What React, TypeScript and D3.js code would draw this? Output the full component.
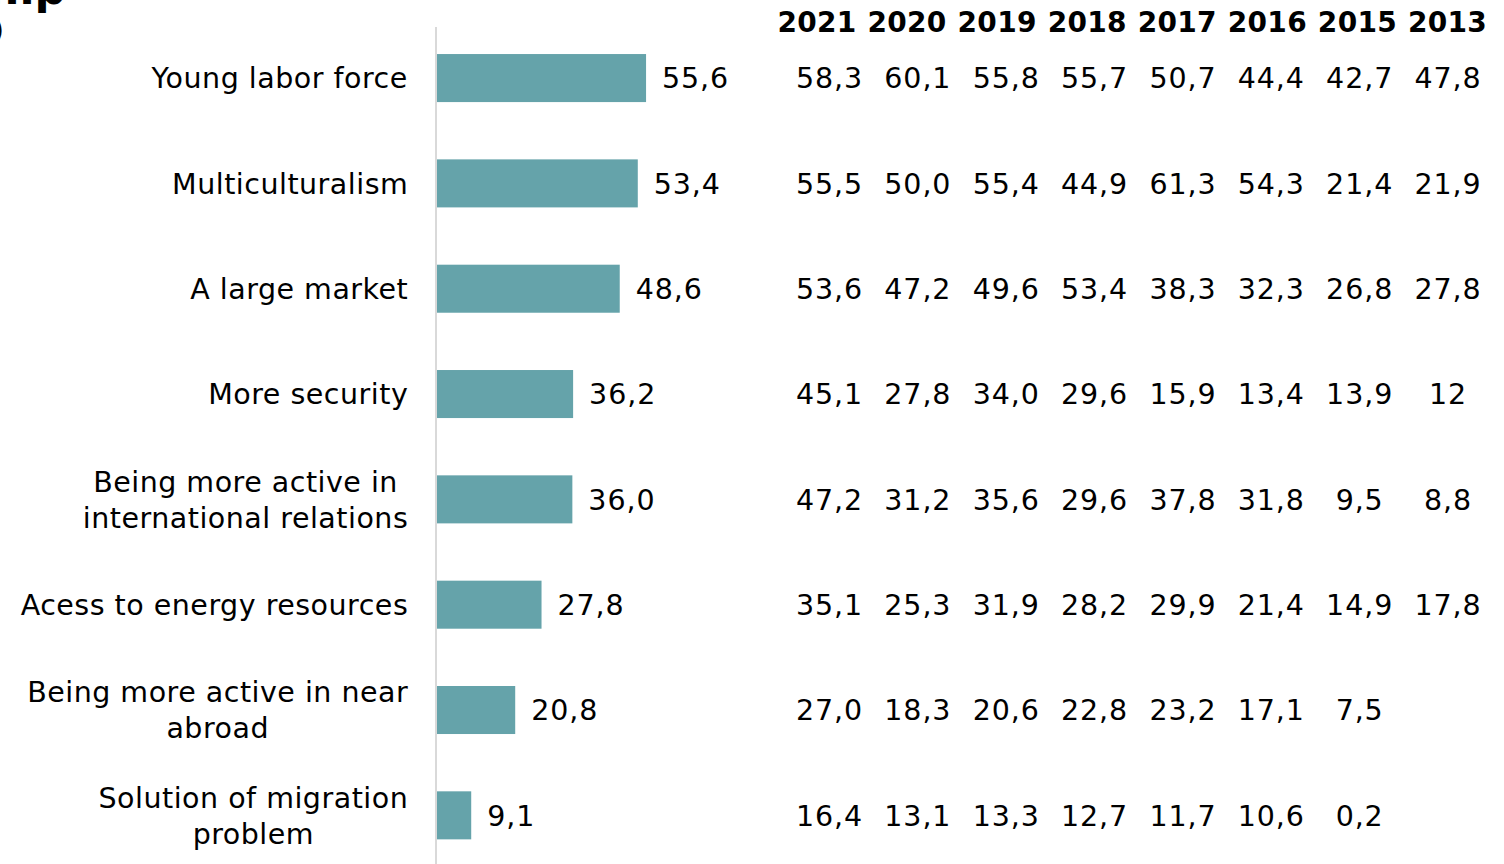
import React, { useEffect, useRef } from "react";
import * as d3 from "d3";

const categories = [
  "Young labor force",
  "Multiculturalism",
  "A large market",
  "More security",
  "Being more active in\ninternational relations",
  "Acess to energy resources",
  "Being more active in near\nabroad",
  "Solution of migration\nproblem",
];
const values2022 = [55.6, 53.4, 48.6, 36.2, 36.0, 27.8, 20.8, 9.1];

const years = ["2021", "2020", "2019", "2018", "2017", "2016", "2015", "2013"];
const y2021 = ["58,3", "55,5", "53,6", "45,1", "47,2", "35,1", "27,0", "16,4"];
const y2020 = ["60,1", "50,0", "47,2", "27,8", "31,2", "25,3", "18,3", "13,1"];
const y2019 = ["55,8", "55,4", "49,6", "34,0", "35,6", "31,9", "20,6", "13,3"];
const y2018 = ["55,7", "44,9", "53,4", "29,6", "29,6", "28,2", "22,8", "12,7"];
const y2017 = ["50,7", "61,3", "38,3", "15,9", "37,8", "29,9", "23,2", "11,7"];
const y2016 = ["44,4", "54,3", "32,3", "13,4", "31,8", "21,4", "17,1", "10,6"];
const y2015 = ["42,7", "21,4", "26,8", "13,9", "9,5", "14,9", "7,5", "0,2"];
const y2013 = ["47,8", "21,9", "27,8", "12", "8,8", "17,8", "", ""];
const tableColumns = [y2021, y2020, y2019, y2018, y2017, y2016, y2015, y2013];

const W = 1504;
const H = 864;
const FONT = "'DejaVu Sans', Verdana, sans-serif";
const BAR = "#65a3aa";
const LS = 0.5;

export default function App() {
  const ref = useRef<SVGSVGElement>(null);

  useEffect(() => {
    const svg = d3.select(ref.current);
    svg.selectAll("*").remove();

    const x = d3.scaleLinear().domain([0, 60]).range([437, 662.6]);
    const y = d3
      .scaleBand<string>()
      .domain(categories)
      .range([25.4, 868])
      .paddingInner(0.544)
      .paddingOuter(0.272);
    const bw = y.bandwidth();
    const cy = (c: string) => (y(c) as number) + bw / 2;

    // cropped title fragments
    svg
      .append("text")
      .attr("x", 66)
      .attr("y", 4)
      .attr("text-anchor", "end")
      .attr("font-family", FONT)
      .attr("font-weight", "bold")
      .attr("font-size", 44)
      .attr("fill", "#000")
      .text("Reasons for partnership");
    svg
      .append("text")
      .attr("x", 4)
      .attr("y", 40)
      .attr("text-anchor", "end")
      .attr("font-family", FONT)
      .attr("font-size", 28)
      .attr("fill", "#000")
      .text("(%)");

    // bars
    svg
      .append("g")
      .selectAll("rect")
      .data(values2022)
      .join("rect")
      .attr("x", x(0))
      .attr("y", (_, i) => y(categories[i]) as number)
      .attr("width", (d) => x(d) - x(0))
      .attr("height", bw)
      .attr("fill", BAR);

    // axis line
    svg
      .append("line")
      .attr("x1", 436)
      .attr("x2", 436)
      .attr("y1", 27)
      .attr("y2", H)
      .attr("stroke", "#d9d9d9")
      .attr("stroke-width", 2);

    // value labels
    svg
      .append("g")
      .selectAll("text")
      .data(values2022)
      .join("text")
      .attr("x", (d) => x(d) + 16)
      .attr("y", (_, i) => cy(categories[i]))
      .attr("dy", "0.36em")
      .attr("font-family", FONT)
      .attr("font-size", 28.5)
      .attr("letter-spacing", 0.9)
      .attr("fill", "#000")
      .text((d) => d3.format(".1f")(d).replace(".", ","));

    // category labels (multi-line centred block, right aligned)
    const lab = svg.append("g");
    categories.forEach((c) => {
      const lines = c.split("\n");
      const g = lab.append("g");
      const lh = 36;
      const t = g
        .append("text")
        .attr("font-family", FONT)
        .attr("font-size", 28.5)
        .attr("letter-spacing", LS)
        .attr("fill", "#000")
        .attr("text-anchor", "middle");
      lines.forEach((ln, k) => {
        t.append("tspan")
          .attr("x", 0)
          .attr("y", cy(c) + (k - (lines.length - 1) / 2) * lh)
          .attr("dy", "0.36em")
          .text(ln);
      });
      const bb = (t.node() as SVGTextElement).getBBox();
      g.attr("transform", `translate(${408 + LS / 2 - bb.width / 2},0)`);
    });

    // table headers
    const hx = d3.scalePoint<string>().domain(years).range([817, 1447.5]);
    svg
      .append("g")
      .selectAll("text")
      .data(years)
      .join("text")
      .attr("x", (d) => hx(d) as number)
      .attr("y", 32)
      .attr("text-anchor", "middle")
      .attr("font-family", FONT)
      .attr("font-weight", "bold")
      .attr("font-size", 28)
      .attr("letter-spacing", 0.3)
      .attr("fill", "#000")
      .text((d) => d);

    // table values
    const vx = d3.scalePoint<string>().domain(years).range([829.5, 1448]);
    const tg = svg.append("g");
    tableColumns.forEach((col, j) => {
      tg.append("g")
        .selectAll("text")
        .data(col)
        .join("text")
        .attr("x", vx(years[j]) as number)
        .attr("y", (_, i) => cy(categories[i]))
        .attr("dy", "0.36em")
        .attr("text-anchor", "middle")
        .attr("font-family", FONT)
        .attr("font-size", 28.5)
        .attr("letter-spacing", 0.9)
        .attr("fill", "#000")
        .text((d) => d);
    });
  }, []);

  return (
    <svg
      ref={ref}
      width={W}
      height={H}
      style={{ position: "absolute", left: 0, top: 0, background: "#fff" }}
    />
  );
}
